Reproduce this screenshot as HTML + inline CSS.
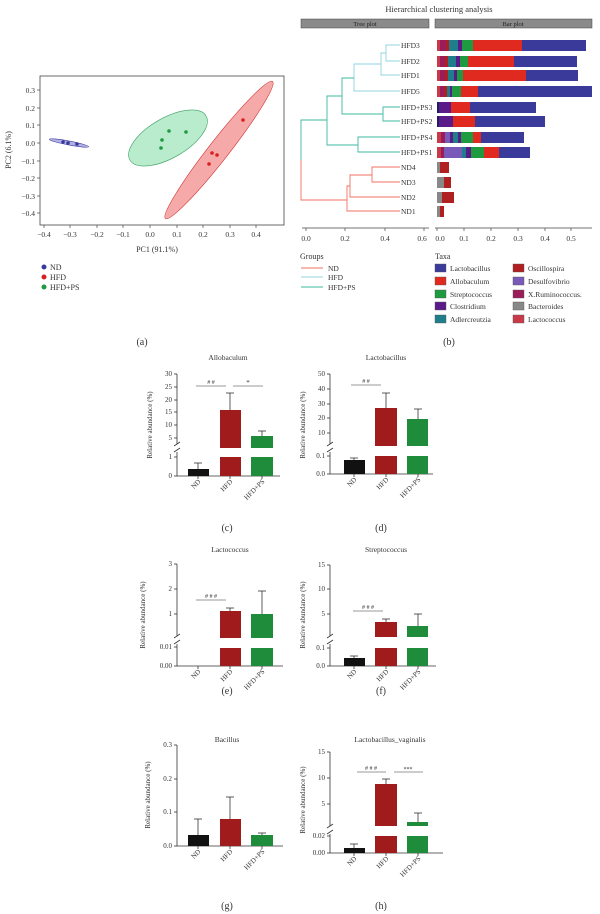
<!DOCTYPE html>
<html><head><meta charset="utf-8"><style>
body{margin:0;background:#fff}
svg{display:block;font-family:"Liberation Serif",serif;fill:#333}
</style></head><body>
<svg width="600" height="914" viewBox="0 0 600 914" xmlns="http://www.w3.org/2000/svg">
<!-- Panel a -->
<g font-size="7.5">
<rect x="40" y="76" width="244" height="149" fill="none" stroke="#444" stroke-width="0.8"/>
<g stroke="#444" stroke-width="0.7">
<line x1="37" y1="90" x2="40" y2="90"/><line x1="37" y1="108" x2="40" y2="108"/><line x1="37" y1="125" x2="40" y2="125"/><line x1="37" y1="143" x2="40" y2="143"/><line x1="37" y1="161" x2="40" y2="161"/><line x1="37" y1="178" x2="40" y2="178"/><line x1="37" y1="196" x2="40" y2="196"/><line x1="37" y1="213" x2="40" y2="213"/>
<line x1="44" y1="225" x2="44" y2="228"/><line x1="70" y1="225" x2="70" y2="228"/><line x1="97" y1="225" x2="97" y2="228"/><line x1="123" y1="225" x2="123" y2="228"/><line x1="150" y1="225" x2="150" y2="228"/><line x1="177" y1="225" x2="177" y2="228"/><line x1="203" y1="225" x2="203" y2="228"/><line x1="230" y1="225" x2="230" y2="228"/><line x1="256" y1="225" x2="256" y2="228"/>
</g>
<g text-anchor="end">
<text x="35" y="93">0.3</text><text x="35" y="111">0.2</text><text x="35" y="128">0.1</text><text x="35" y="146">0.0</text><text x="35" y="164">−0.1</text><text x="35" y="181">−0.2</text><text x="35" y="199">−0.3</text><text x="35" y="216">−0.4</text>
</g>
<g text-anchor="middle">
<text x="44" y="237">−0.4</text><text x="70" y="237">−0.3</text><text x="97" y="237">−0.2</text><text x="123" y="237">−0.1</text><text x="150" y="237">0.0</text><text x="177" y="237">0.1</text><text x="203" y="237">0.2</text><text x="230" y="237">0.3</text><text x="256" y="237">0.4</text>
<text x="157" y="252" font-size="8">PC1 (91.1%)</text>
<text transform="translate(11,150) rotate(-90)" font-size="8">PC2 (6.1%)</text>
</g>
<ellipse cx="69" cy="143" rx="20" ry="2" transform="rotate(10.7 69 143)" fill="#8080d0" fill-opacity="0.6" stroke="#3a3aa0" stroke-width="0.6"/>
<ellipse cx="168" cy="138" rx="44" ry="20" transform="rotate(-30 168 138)" fill="#a8e6c0" fill-opacity="0.8" stroke="#3aa060" stroke-width="0.6"/>
<ellipse cx="219" cy="150" rx="87" ry="10" transform="rotate(-52 219 150)" fill="#f4a0a0" fill-opacity="0.9" stroke="#d03030" stroke-width="0.6"/>
<g fill="#3a3a9a"><circle cx="63" cy="142" r="1.8"/><circle cx="68" cy="143" r="1.8"/><circle cx="77" cy="144" r="1.8"/></g>
<g fill="#1e9a40"><circle cx="169" cy="131" r="1.8"/><circle cx="162" cy="140" r="1.8"/><circle cx="161" cy="148" r="1.8"/><circle cx="186" cy="132" r="1.8"/></g>
<g fill="#d82020"><circle cx="243" cy="120" r="1.8"/><circle cx="212" cy="153" r="1.8"/><circle cx="217" cy="155" r="1.8"/><circle cx="209" cy="164" r="1.8"/></g>
<circle cx="44" cy="267" r="2.5" fill="#3a3a9a"/><text x="50" y="270" font-size="8">ND</text>
<circle cx="44" cy="277" r="2.5" fill="#d82020"/><text x="50" y="280" font-size="8">HFD</text>
<circle cx="44" cy="287" r="2.5" fill="#1e9a40"/><text x="50" y="290" font-size="8">HFD+PS</text>
<text x="142" y="345" font-size="10" text-anchor="middle">(a)</text>
</g>

<!-- Panel b -->
<g font-size="7.5">
<text x="439" y="12" text-anchor="middle" font-size="8.5">Hierarchical clustering analysis</text>
<rect x="301" y="19" width="128" height="9" fill="#8a8a8a" stroke="#444" stroke-width="0.5"/>
<text x="365" y="26" text-anchor="middle" font-size="6.5" fill="#222">Tree plot</text>
<rect x="435" y="19" width="157" height="9" fill="#8a8a8a" stroke="#444" stroke-width="0.5"/>
<text x="513" y="26" text-anchor="middle" font-size="6.5" fill="#222">Bar plot</text>
<!-- tree -->
<g fill="none" stroke-width="0.9">
<g stroke="#8fd4e0">
<polyline points="400,45 386,45 386,61 400,61"/>
<polyline points="386,53 381,53 381,75 400,75"/>
<polyline points="381,64 354,64 354,91 400,91"/>
</g>
<g stroke="#3cb8a0">
<polyline points="400,107 383,107 383,121 400,121"/>
<polyline points="354,78 342,78 342,114 383,114"/>
<polyline points="400,137 358,137 358,152 400,152"/>
<polyline points="342,96 327,96 327,145 358,145"/>
<polyline points="327,120 301,120 301,160"/>
</g>
<g stroke="#f07060">
<polyline points="301,160 301,200 347,200"/>
<polyline points="400,167 372,167 372,182 400,182"/>
<polyline points="372,175 350,175 350,197 400,197"/>
<polyline points="350,186 347,186 347,211 400,211"/>
</g>
</g>
<g font-size="7.5">
<text x="401" y="48">HFD3</text><text x="401" y="64">HFD2</text><text x="401" y="78">HFD1</text><text x="401" y="94">HFD5</text>
<text x="401" y="110">HFD+PS3</text><text x="401" y="124">HFD+PS2</text><text x="401" y="140">HFD+PS4</text><text x="401" y="155">HFD+PS1</text>
<text x="401" y="170">ND4</text><text x="401" y="185">ND3</text><text x="401" y="200">ND2</text><text x="401" y="214">ND1</text>
</g>
<!-- bars -->
<g stroke="none">
<!-- HFD3 -->
<g transform="translate(0,40)"><rect x="437" y="0" width="3" height="11" fill="#c83a4a"/><rect x="440" y="0" width="6" height="11" fill="#9b1c5a"/><rect x="446" y="0" width="3" height="11" fill="#b02020"/><rect x="449" y="0" width="9" height="11" fill="#1e7f8a"/><rect x="458" y="0" width="4" height="11" fill="#5a1a8a"/><rect x="462" y="0" width="11" height="11" fill="#1e9a40"/><rect x="473" y="0" width="49" height="11" fill="#e02a20"/><rect x="522" y="0" width="64" height="11" fill="#3a3a9a"/></g>
<g transform="translate(0,56)"><rect x="437" y="0" width="3" height="11" fill="#c83a4a"/><rect x="440" y="0" width="5" height="11" fill="#9b1c5a"/><rect x="445" y="0" width="3" height="11" fill="#b02020"/><rect x="448" y="0" width="8" height="11" fill="#1e7f8a"/><rect x="456" y="0" width="4" height="11" fill="#5a1a8a"/><rect x="460" y="0" width="8" height="11" fill="#1e9a40"/><rect x="468" y="0" width="46" height="11" fill="#e02a20"/><rect x="514" y="0" width="63" height="11" fill="#3a3a9a"/></g>
<g transform="translate(0,70)"><rect x="437" y="0" width="3" height="11" fill="#c83a4a"/><rect x="440" y="0" width="5" height="11" fill="#9b1c5a"/><rect x="445" y="0" width="3" height="11" fill="#b02020"/><rect x="448" y="0" width="6" height="11" fill="#1e7f8a"/><rect x="454" y="0" width="3" height="11" fill="#5a1a8a"/><rect x="457" y="0" width="6" height="11" fill="#1e9a40"/><rect x="463" y="0" width="63" height="11" fill="#e02a20"/><rect x="526" y="0" width="52" height="11" fill="#3a3a9a"/></g>
<g transform="translate(0,86)"><rect x="437" y="0" width="3" height="11" fill="#c83a4a"/><rect x="440" y="0" width="4" height="11" fill="#9b1c5a"/><rect x="444" y="0" width="3" height="11" fill="#b02020"/><rect x="447" y="0" width="3" height="11" fill="#1e7f8a"/><rect x="450" y="0" width="2" height="11" fill="#5a1a8a"/><rect x="452" y="0" width="9" height="11" fill="#1e9a40"/><rect x="461" y="0" width="17" height="11" fill="#e02a20"/><rect x="478" y="0" width="114" height="11" fill="#3a3a9a"/></g>
<g transform="translate(0,102)"><rect x="437" y="0" width="2" height="11" fill="#1e1e60"/><rect x="439" y="0" width="12" height="11" fill="#5a1a8a"/><rect x="451" y="0" width="19" height="11" fill="#e02a20"/><rect x="470" y="0" width="66" height="11" fill="#3a3a9a"/></g>
<g transform="translate(0,116)"><rect x="437" y="0" width="2" height="11" fill="#1e1e60"/><rect x="439" y="0" width="14" height="11" fill="#5a1a8a"/><rect x="453" y="0" width="22" height="11" fill="#e02a20"/><rect x="475" y="0" width="70" height="11" fill="#3a3a9a"/></g>
<g transform="translate(0,132)"><rect x="437" y="0" width="4" height="11" fill="#c83a4a"/><rect x="441" y="0" width="4" height="11" fill="#9b1c5a"/><rect x="445" y="0" width="5" height="11" fill="#7a5ab8"/><rect x="450" y="0" width="3" height="11" fill="#5a1a8a"/><rect x="453" y="0" width="5" height="11" fill="#1e7f8a"/><rect x="458" y="0" width="3" height="11" fill="#5a1a8a"/><rect x="461" y="0" width="12" height="11" fill="#1e9a40"/><rect x="473" y="0" width="8" height="11" fill="#e02a20"/><rect x="481" y="0" width="43" height="11" fill="#3a3a9a"/></g>
<g transform="translate(0,147)"><rect x="437" y="0" width="4" height="11" fill="#c83a4a"/><rect x="441" y="0" width="3" height="11" fill="#9b1c5a"/><rect x="444" y="0" width="18" height="11" fill="#7a5ab8"/><rect x="462" y="0" width="4" height="11" fill="#1e7f8a"/><rect x="466" y="0" width="5" height="11" fill="#5a1a8a"/><rect x="471" y="0" width="13" height="11" fill="#1e9a40"/><rect x="484" y="0" width="15" height="11" fill="#e02a20"/><rect x="499" y="0" width="31" height="11" fill="#3a3a9a"/></g>
<g transform="translate(0,162)"><rect x="437" y="0" width="3" height="11" fill="#888"/><rect x="440" y="0" width="9" height="11" fill="#b02020"/></g>
<g transform="translate(0,177)"><rect x="437" y="0" width="7" height="11" fill="#888"/><rect x="444" y="0" width="7" height="11" fill="#b02020"/></g>
<g transform="translate(0,192)"><rect x="437" y="0" width="5" height="11" fill="#888"/><rect x="442" y="0" width="12" height="11" fill="#b02020"/></g>
<g transform="translate(0,206)"><rect x="437" y="0" width="3" height="11" fill="#888"/><rect x="440" y="0" width="4" height="11" fill="#b02020"/></g>
</g>
<!-- axes -->
<g stroke="#444" stroke-width="0.7">
<line x1="302" y1="228" x2="429" y2="228"/><line x1="435" y1="228" x2="592" y2="228"/>
<line x1="306" y1="228" x2="306" y2="231"/><line x1="345" y1="228" x2="345" y2="231"/><line x1="385" y1="228" x2="385" y2="231"/><line x1="424" y1="228" x2="424" y2="231"/>
<line x1="437" y1="228" x2="437" y2="231"/><line x1="464" y1="228" x2="464" y2="231"/><line x1="491" y1="228" x2="491" y2="231"/><line x1="518" y1="228" x2="518" y2="231"/><line x1="545" y1="228" x2="545" y2="231"/><line x1="571" y1="228" x2="571" y2="231"/>
</g>
<g text-anchor="middle">
<text x="306" y="241">0.0</text><text x="345" y="241">0.2</text><text x="385" y="241">0.4</text><text x="422" y="241">0.6</text>
<text x="440" y="241">0.0</text><text x="464" y="241">0.1</text><text x="491" y="241">0.2</text><text x="518" y="241">0.3</text><text x="545" y="241">0.4</text><text x="571" y="241">0.5</text>
</g>
<text x="300" y="259" font-size="8">Groups</text>
<line x1="301" y1="268" x2="323" y2="268" stroke="#f07060"/><text x="328" y="271">ND</text>
<line x1="301" y1="277" x2="323" y2="277" stroke="#8fd4e0"/><text x="328" y="280">HFD</text>
<line x1="301" y1="287" x2="323" y2="287" stroke="#3cb8a0"/><text x="328" y="290">HFD+PS</text>
<text x="435" y="259" font-size="8">Taxa</text>
<g stroke="#555" stroke-width="0.4">
<rect x="435" y="264" width="11" height="8" fill="#3a3a9a"/><rect x="435" y="277" width="11" height="8" fill="#e02a20"/><rect x="435" y="290" width="11" height="8" fill="#1e9a40"/><rect x="435" y="302" width="11" height="8" fill="#5a1a8a"/><rect x="435" y="315" width="11" height="8" fill="#1e7f8a"/>
<rect x="513" y="264" width="11" height="8" fill="#b02020"/><rect x="513" y="277" width="11" height="8" fill="#7a5ab8"/><rect x="513" y="290" width="11" height="8" fill="#9b1c5a"/><rect x="513" y="302" width="11" height="8" fill="#888"/><rect x="513" y="315" width="11" height="8" fill="#c83a4a"/>
</g>
<text x="450" y="271">Lactobacillus</text><text x="450" y="284">Allobaculum</text><text x="450" y="297">Streptococcus</text><text x="450" y="309">Clostridium</text><text x="450" y="322">Adlercreutzia</text>
<text x="528" y="271">Oscillospira</text><text x="528" y="284">Desulfovibrio</text><text x="528" y="297">X.Ruminococcus.</text><text x="528" y="309">Bacteroides</text><text x="528" y="322">Lactococcus</text>
<text x="449" y="345" font-size="10" text-anchor="middle">(b)</text>
</g>

<!-- Panel c -->
<g font-size="7">
<text x="228" y="360" text-anchor="middle" font-size="7.5">Allobaculum</text>
<text transform="translate(152,425) rotate(-90)" text-anchor="middle">Relative abundance (%)</text>
<g stroke="#333" stroke-width="0.8" fill="none">
<line x1="177" y1="374" x2="177" y2="444"/><line x1="177" y1="452" x2="177" y2="476"/><line x1="177" y1="476" x2="280" y2="476"/>
<line x1="174" y1="374" x2="177" y2="374"/><line x1="174" y1="387" x2="177" y2="387"/><line x1="174" y1="400" x2="177" y2="400"/><line x1="174" y1="412" x2="177" y2="412"/><line x1="174" y1="425" x2="177" y2="425"/><line x1="174" y1="438" x2="177" y2="438"/><line x1="174" y1="457" x2="177" y2="457"/><line x1="174" y1="476" x2="177" y2="476"/>
<line x1="174" y1="446" x2="180" y2="442"/><line x1="174" y1="452" x2="180" y2="448"/>
<line x1="198" y1="476" x2="198" y2="479"/><line x1="230" y1="476" x2="230" y2="479"/><line x1="262" y1="476" x2="262" y2="479"/>
<line x1="198" y1="469" x2="198" y2="463"/><line x1="194" y1="463" x2="202" y2="463"/>
<line x1="230" y1="410" x2="230" y2="393"/><line x1="226" y1="393" x2="234" y2="393"/>
<line x1="262" y1="436" x2="262" y2="431"/><line x1="258" y1="431" x2="266" y2="431"/>
<line x1="196" y1="386" x2="226" y2="386" stroke-width="0.6"/><line x1="233" y1="386" x2="263" y2="386" stroke-width="0.6"/>
</g>
<rect x="188" y="469" width="21" height="7" fill="#111"/>
<rect x="220" y="410" width="21" height="38" fill="#a01c1c"/><rect x="220" y="457" width="21" height="19" fill="#a01c1c"/>
<rect x="251" y="436" width="22" height="12" fill="#1f8c3c"/><rect x="251" y="457" width="22" height="19" fill="#1f8c3c"/>
<text x="211" y="384" text-anchor="middle" font-size="6"># #</text><text x="248" y="385" text-anchor="middle" font-size="7">*</text>
<g text-anchor="end"><text x="172" y="376">30</text><text x="172" y="389">25</text><text x="172" y="402">20</text><text x="172" y="414">15</text><text x="172" y="427">10</text><text x="172" y="440">5</text><text x="172" y="459">1</text><text x="172" y="478">0</text>
<text transform="translate(201,482) rotate(-45)">ND</text><text transform="translate(233,482) rotate(-45)">HFD</text><text transform="translate(265,482) rotate(-45)">HFD+PS</text></g>
<text x="227" y="531" text-anchor="middle" font-size="10">(c)</text>
</g>

<!-- Panel d -->
<g font-size="7">
<text x="386" y="360" text-anchor="middle" font-size="7.5">Lactobacillus</text>
<text transform="translate(305,425) rotate(-90)" text-anchor="middle">Relative abundance (%)</text>
<g stroke="#333" stroke-width="0.8" fill="none">
<line x1="330" y1="374" x2="330" y2="444"/><line x1="330" y1="452" x2="330" y2="474"/><line x1="330" y1="474" x2="433" y2="474"/>
<line x1="327" y1="374" x2="330" y2="374"/><line x1="327" y1="389" x2="330" y2="389"/><line x1="327" y1="404" x2="330" y2="404"/><line x1="327" y1="418" x2="330" y2="418"/><line x1="327" y1="433" x2="330" y2="433"/><line x1="327" y1="456" x2="330" y2="456"/><line x1="327" y1="474" x2="330" y2="474"/>
<line x1="327" y1="446" x2="333" y2="442"/><line x1="327" y1="452" x2="333" y2="448"/>
<line x1="354" y1="474" x2="354" y2="477"/><line x1="386" y1="474" x2="386" y2="477"/><line x1="418" y1="474" x2="418" y2="477"/>
<line x1="354" y1="460" x2="354" y2="458"/><line x1="350" y1="458" x2="358" y2="458"/>
<line x1="386" y1="408" x2="386" y2="393"/><line x1="382" y1="393" x2="390" y2="393"/>
<line x1="418" y1="419" x2="418" y2="409"/><line x1="414" y1="409" x2="422" y2="409"/>
<line x1="351" y1="385" x2="381" y2="385" stroke-width="0.6"/>
</g>
<rect x="344" y="460" width="21" height="14" fill="#111"/>
<rect x="375" y="408" width="22" height="38" fill="#a01c1c"/><rect x="375" y="456" width="22" height="18" fill="#a01c1c"/>
<rect x="407" y="419" width="21" height="27" fill="#1f8c3c"/><rect x="407" y="456" width="21" height="18" fill="#1f8c3c"/>
<text x="366" y="383" text-anchor="middle" font-size="6"># #</text>
<g text-anchor="end"><text x="325" y="376">50</text><text x="325" y="391">40</text><text x="325" y="406">30</text><text x="325" y="420">20</text><text x="325" y="435">10</text><text x="325" y="458">0.1</text><text x="325" y="476">0.0</text>
<text transform="translate(357,480) rotate(-45)">ND</text><text transform="translate(389,480) rotate(-45)">HFD</text><text transform="translate(421,480) rotate(-45)">HFD+PS</text></g>
<text x="381" y="531" text-anchor="middle" font-size="10">(d)</text>
</g>

<!-- Panel e -->
<g font-size="7">
<text x="230" y="552" text-anchor="middle" font-size="7.5">Lactococcus</text>
<text transform="translate(145,615) rotate(-90)" text-anchor="middle">Relative abundance (%)</text>
<g stroke="#333" stroke-width="0.8" fill="none">
<line x1="177" y1="564" x2="177" y2="636"/><line x1="177" y1="644" x2="177" y2="666"/><line x1="177" y1="666" x2="283" y2="666"/>
<line x1="174" y1="564" x2="177" y2="564"/><line x1="174" y1="589" x2="177" y2="589"/><line x1="174" y1="614" x2="177" y2="614"/><line x1="174" y1="647" x2="177" y2="647"/><line x1="174" y1="666" x2="177" y2="666"/>
<line x1="174" y1="638" x2="180" y2="634"/><line x1="174" y1="644" x2="180" y2="640"/>
<line x1="198" y1="666" x2="198" y2="669"/><line x1="230" y1="666" x2="230" y2="669"/><line x1="262" y1="666" x2="262" y2="669"/>
<line x1="230" y1="611" x2="230" y2="608"/><line x1="226" y1="608" x2="234" y2="608"/>
<line x1="262" y1="614" x2="262" y2="591"/><line x1="258" y1="591" x2="266" y2="591"/>
<line x1="196" y1="600" x2="226" y2="600" stroke-width="0.6"/>
</g>
<rect x="220" y="611" width="21" height="27" fill="#a01c1c"/><rect x="220" y="648" width="21" height="18" fill="#a01c1c"/>
<rect x="251" y="614" width="22" height="24" fill="#1f8c3c"/><rect x="251" y="648" width="22" height="18" fill="#1f8c3c"/>
<text x="211" y="598" text-anchor="middle" font-size="6"># # #</text>
<g text-anchor="end"><text x="172" y="566">3</text><text x="172" y="591">2</text><text x="172" y="616">1</text><text x="172" y="649">0.01</text><text x="172" y="668">0.00</text>
<text transform="translate(201,672) rotate(-45)">ND</text><text transform="translate(233,672) rotate(-45)">HFD</text><text transform="translate(265,672) rotate(-45)">HFD+PS</text></g>
<text x="227" y="694" text-anchor="middle" font-size="10">(e)</text>
</g>

<!-- Panel f -->
<g font-size="7">
<text x="386" y="552" text-anchor="middle" font-size="7.5">Streptococcus</text>
<text transform="translate(305,615) rotate(-90)" text-anchor="middle">Relative abundance (%)</text>
<g stroke="#333" stroke-width="0.8" fill="none">
<line x1="330" y1="565" x2="330" y2="636"/><line x1="330" y1="644" x2="330" y2="666"/><line x1="330" y1="666" x2="436" y2="666"/>
<line x1="327" y1="565" x2="330" y2="565"/><line x1="327" y1="589" x2="330" y2="589"/><line x1="327" y1="614" x2="330" y2="614"/><line x1="327" y1="648" x2="330" y2="648"/><line x1="327" y1="666" x2="330" y2="666"/>
<line x1="327" y1="638" x2="333" y2="634"/><line x1="327" y1="644" x2="333" y2="640"/>
<line x1="354" y1="666" x2="354" y2="669"/><line x1="386" y1="666" x2="386" y2="669"/><line x1="418" y1="666" x2="418" y2="669"/>
<line x1="354" y1="658" x2="354" y2="656"/><line x1="350" y1="656" x2="358" y2="656"/>
<line x1="386" y1="622" x2="386" y2="619"/><line x1="382" y1="619" x2="390" y2="619"/>
<line x1="418" y1="626" x2="418" y2="614"/><line x1="414" y1="614" x2="422" y2="614"/>
<line x1="353" y1="611" x2="383" y2="611" stroke-width="0.6"/>
</g>
<rect x="344" y="658" width="21" height="8" fill="#111"/>
<rect x="375" y="622" width="22" height="15" fill="#a01c1c"/><rect x="375" y="648" width="22" height="18" fill="#a01c1c"/>
<rect x="407" y="626" width="21" height="11" fill="#1f8c3c"/><rect x="407" y="648" width="21" height="18" fill="#1f8c3c"/>
<text x="368" y="609" text-anchor="middle" font-size="6"># # #</text>
<g text-anchor="end"><text x="325" y="567">15</text><text x="325" y="591">10</text><text x="325" y="616">5</text><text x="325" y="650">0.1</text><text x="325" y="668">0.0</text>
<text transform="translate(357,672) rotate(-45)">ND</text><text transform="translate(389,672) rotate(-45)">HFD</text><text transform="translate(421,672) rotate(-45)">HFD+PS</text></g>
<text x="381" y="694" text-anchor="middle" font-size="10">(f)</text>
</g>

<!-- Panel g -->
<g font-size="7">
<text x="227" y="742" text-anchor="middle" font-size="7.5">Bacillus</text>
<text transform="translate(150,795) rotate(-90)" text-anchor="middle">Relative abundance (%)</text>
<g stroke="#333" stroke-width="0.8" fill="none">
<line x1="177" y1="745" x2="177" y2="846"/><line x1="177" y1="846" x2="283" y2="846"/>
<line x1="174" y1="745" x2="177" y2="745"/><line x1="174" y1="779" x2="177" y2="779"/><line x1="174" y1="812" x2="177" y2="812"/><line x1="174" y1="846" x2="177" y2="846"/>
<line x1="198" y1="846" x2="198" y2="849"/><line x1="230" y1="846" x2="230" y2="849"/><line x1="262" y1="846" x2="262" y2="849"/>
<line x1="198" y1="835" x2="198" y2="819"/><line x1="194" y1="819" x2="202" y2="819"/>
<line x1="230" y1="819" x2="230" y2="797"/><line x1="226" y1="797" x2="234" y2="797"/>
<line x1="262" y1="835" x2="262" y2="833"/><line x1="258" y1="833" x2="266" y2="833"/>
</g>
<rect x="188" y="835" width="21" height="11" fill="#111"/>
<rect x="220" y="819" width="21" height="27" fill="#a01c1c"/>
<rect x="251" y="835" width="22" height="11" fill="#1f8c3c"/>
<g text-anchor="end"><text x="172" y="747">0.3</text><text x="172" y="781">0.2</text><text x="172" y="814">0.1</text><text x="172" y="848">0.0</text>
<text transform="translate(201,852) rotate(-45)">ND</text><text transform="translate(233,852) rotate(-45)">HFD</text><text transform="translate(265,852) rotate(-45)">HFD+PS</text></g>
<text x="227" y="909" text-anchor="middle" font-size="10">(g)</text>
</g>

<!-- Panel h -->
<g font-size="7">
<text x="390" y="742" text-anchor="middle" font-size="7.5">Lactobacillus_vaginalis</text>
<text transform="translate(305,800) rotate(-90)" text-anchor="middle">Relative abundance (%)</text>
<g stroke="#333" stroke-width="0.8" fill="none">
<line x1="330" y1="752" x2="330" y2="826"/><line x1="330" y1="834" x2="330" y2="853"/><line x1="330" y1="853" x2="443" y2="853"/>
<line x1="327" y1="752" x2="330" y2="752"/><line x1="327" y1="778" x2="330" y2="778"/><line x1="327" y1="804" x2="330" y2="804"/><line x1="327" y1="836" x2="330" y2="836"/><line x1="327" y1="853" x2="330" y2="853"/>
<line x1="327" y1="828" x2="333" y2="824"/><line x1="327" y1="834" x2="333" y2="830"/>
<line x1="354" y1="853" x2="354" y2="856"/><line x1="386" y1="853" x2="386" y2="856"/><line x1="418" y1="853" x2="418" y2="856"/>
<line x1="354" y1="848" x2="354" y2="844"/><line x1="350" y1="844" x2="358" y2="844"/>
<line x1="386" y1="784" x2="386" y2="779"/><line x1="382" y1="779" x2="390" y2="779"/>
<line x1="418" y1="822" x2="418" y2="813"/><line x1="414" y1="813" x2="422" y2="813"/>
<line x1="357" y1="772" x2="386" y2="772" stroke-width="0.6"/><line x1="394" y1="772" x2="423" y2="772" stroke-width="0.6"/>
</g>
<rect x="344" y="848" width="21" height="5" fill="#111"/>
<rect x="375" y="784" width="22" height="42" fill="#a01c1c"/><rect x="375" y="836" width="22" height="17" fill="#a01c1c"/>
<rect x="407" y="822" width="21" height="4" fill="#1f8c3c"/><rect x="407" y="836" width="21" height="17" fill="#1f8c3c"/>
<text x="371" y="770" text-anchor="middle" font-size="6"># # #</text><text x="408" y="771" text-anchor="middle" font-size="6">***</text>
<g text-anchor="end"><text x="325" y="754">15</text><text x="325" y="780">10</text><text x="325" y="806">5</text><text x="325" y="838">0.02</text><text x="325" y="855">0.00</text>
<text transform="translate(357,859) rotate(-45)">ND</text><text transform="translate(389,859) rotate(-45)">HFD</text><text transform="translate(421,859) rotate(-45)">HFD+PS</text></g>
<text x="381" y="909" text-anchor="middle" font-size="10">(h)</text>
</g>
</svg>
</body></html>
